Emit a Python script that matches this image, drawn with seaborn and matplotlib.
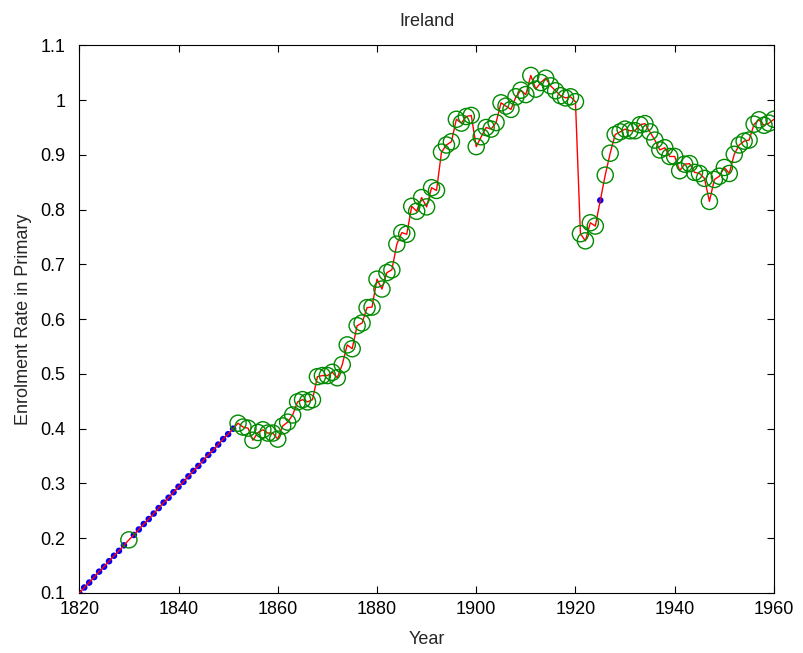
import pandas as pd
import matplotlib
matplotlib.use("Agg")
import matplotlib.pyplot as plt
import seaborn as sns

# Datos (Irlanda, tasa de matrícula en primaria)
YEARS_1 = list(range(1820, 1852))
VALUES_1 = [0.100, 0.110, 0.119, 0.129, 0.139, 0.148, 0.158, 0.168, 0.177, 0.187,
            0.197, 0.206, 0.216, 0.226, 0.235, 0.245, 0.255, 0.265, 0.274, 0.284,
            0.294, 0.303, 0.313, 0.323, 0.332, 0.342, 0.352, 0.361, 0.371, 0.381,
            0.390, 0.400]

YEARS_2 = list(range(1852, 1961))
VALUES_2 = [0.410, 0.403, 0.401, 0.379, 0.393, 0.398, 0.392, 0.392, 0.381, 0.405,  # 1852-1861
            0.412, 0.425, 0.449, 0.453, 0.449, 0.453, 0.495, 0.497, 0.497, 0.503,  # 1862-1871
            0.493, 0.517, 0.553, 0.546, 0.588, 0.593, 0.621, 0.622, 0.673, 0.655,  # 1872-1881
            0.685, 0.690, 0.737, 0.758, 0.755, 0.806, 0.797, 0.822, 0.805, 0.840,  # 1882-1891
            0.835, 0.905, 0.918, 0.924, 0.965, 0.958, 0.970, 0.972, 0.915, 0.933,  # 1892-1901
            0.950, 0.947, 0.959, 0.995, 0.989, 0.983, 1.006, 1.018, 1.010, 1.045,  # 1902-1911
            1.020, 1.032, 1.040, 1.026, 1.017, 1.008, 1.004, 1.006, 0.997, 0.756,  # 1912-1921
            0.743, 0.776, 0.770, 0.817, 0.863, 0.903, 0.937, 0.942, 0.947, 0.944,  # 1922-1931
            0.944, 0.955, 0.957, 0.942, 0.927, 0.909, 0.913, 0.897, 0.897, 0.871,  # 1932-1941
            0.883, 0.884, 0.868, 0.866, 0.857, 0.815, 0.855, 0.861, 0.877, 0.866,  # 1942-1951
            0.901, 0.918, 0.925, 0.927, 0.956, 0.964, 0.954, 0.958, 0.965]         # 1952-1960

# Años sin dato observado (imputados)
IMPUTED_YEARS = list(range(1820, 1830)) + list(range(1831, 1852)) + [1925]

X_TICKS = [1820, 1840, 1860, 1880, 1900, 1920, 1940, 1960]
Y_TICKS = [0.1, 0.2, 0.3, 0.4, 0.5, 0.6, 0.7, 0.8, 0.9, 1.0, 1.1]
Y_TICK_LABELS = ["0.1", "0.2", "0.3", "0.4", "0.5", "0.6", "0.7", "0.8", "0.9", "1", "1.1"]

df = pd.DataFrame({"Year": YEARS_1 + YEARS_2, "Rate": VALUES_1 + VALUES_2})
df["Imputed"] = df["Year"].isin(IMPUTED_YEARS)

sns.set_theme(style="white")
plt.rcParams.update({
    "font.family": ["Liberation Sans", "DejaVu Sans"],
    "xtick.direction": "in",
    "ytick.direction": "in",
    "xtick.top": True,
    "ytick.right": True,
    "xtick.bottom": True,
    "ytick.left": True,
    "xtick.major.size": 5,
    "ytick.major.size": 5,
    "xtick.major.width": 0.8,
    "ytick.major.width": 0.8,
})

fig = plt.figure(figsize=(8.04, 6.53), dpi=100)
ax = fig.add_axes([0.0986, 0.0919, 0.864, 0.8387])

sns.scatterplot(data=df[df["Imputed"]], x="Year", y="Rate", ax=ax, color="#0000ff",
                s=22, edgecolor="none", zorder=2, legend=False)
sns.lineplot(data=df, x="Year", y="Rate", ax=ax, color="#ff0000", linewidth=1.0,
             zorder=3, legend=False)
sns.scatterplot(data=df[~df["Imputed"]], x="Year", y="Rate", ax=ax, marker="o",
                s=135, facecolors="none", edgecolor="#008a00", linewidth=1.0,
                zorder=4, legend=False)

ax.set_xlim(1820, 1960)
ax.set_ylim(0.1, 1.1)
ax.set_xticks(X_TICKS)
ax.set_xticklabels([str(t) for t in X_TICKS], fontsize=13)
ax.set_yticks(Y_TICKS)
ax.set_yticklabels(Y_TICK_LABELS, fontsize=13)
ax.tick_params(axis="x", colors="black", pad=6)
ax.tick_params(axis="y", colors="black", pad=10)

for spine in ax.spines.values():
    spine.set_color("black")
    spine.set_linewidth(0.8)

ax.set_title("Ireland", fontsize=13, pad=14)
ax.set_xlabel("Year", fontsize=13, labelpad=9)
ax.set_ylabel("Enrolment Rate in Primary", fontsize=13, labelpad=6)

fig.savefig("out.png", dpi=100)
plt.close(fig)
